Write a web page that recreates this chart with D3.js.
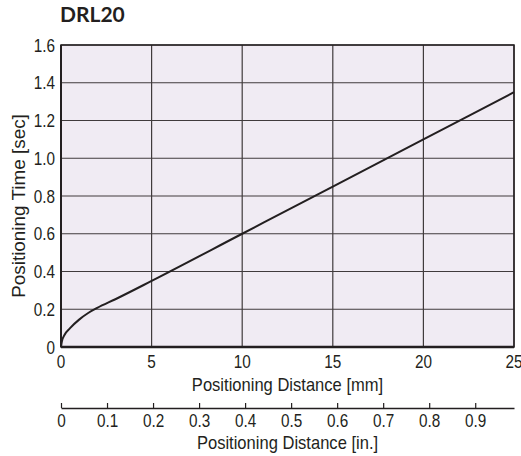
<!DOCTYPE html>
<html>
<head>
<meta charset="utf-8">
<script src="https://cdn.jsdelivr.net/npm/d3@7"></script>
<style>
  body { margin: 0; background: #fff; }
  svg text { font-family: 'Liberation Sans', Arial, sans-serif; fill: #231f20; }
</style>
</head>
<body>
<div id="chart"></div>
<script>
// data
let distanceMm = [0, 0.05, 0.2, 0.5, 1, 1.5, 2, 3, 5, 10, 15, 20, 25]
let timeSec = [0, 0.03, 0.065, 0.1, 0.145, 0.18, 0.207, 0.253, 0.35, 0.6, 0.85, 1.1, 1.35]
let mmTicks = [0, 5, 10, 15, 20, 25]
let secTicks = [0, 0.2, 0.4, 0.6, 0.8, 1.0, 1.2, 1.4, 1.6]
let inchTicks = [0, 0.1, 0.2, 0.3, 0.4, 0.5, 0.6, 0.7, 0.8, 0.9]

let margin = { top: 45, left: 61, right: 7, bottom: 109 }
let width = 521 - margin.left - margin.right
let height = 456 - margin.top - margin.bottom

// condensed look: squeeze Liberation Sans horizontally
let tickSqueeze = 0.85
let labelSqueeze = 0.92

let svg = d3.select('#chart')
  .append('svg')
  .attr('width', 521)
  .attr('height', 456)

let g = svg.append('g')
  .attr('transform', `translate(${margin.left},${margin.top})`)

let xPositionScale = d3.scaleLinear().domain([0, 25]).range([0, width])
let yPositionScale = d3.scaleLinear().domain([0, 1.6]).range([height, 0])
let inchScale = d3.scaleLinear().domain([0, 25 / 25.4]).range([0, width])

function squeezed(parent, str, x, y, anchor, sx) {
  return parent.append('text')
    .text(str)
    .attr('transform', `translate(${x},${y}) scale(${sx},1)`)
    .attr('text-anchor', anchor)
    .attr('font-size', 18)
}

// plot background
g.append('rect')
  .attr('width', width)
  .attr('height', height)
  .attr('fill', '#f0ebf3')

// grid
g.selectAll('.vgrid')
  .data(mmTicks)
  .enter()
  .append('line')
  .attr('x1', d => xPositionScale(d))
  .attr('x2', d => xPositionScale(d))
  .attr('y1', 0)
  .attr('y2', height)
  .attr('stroke', '#403b3c')
  .attr('stroke-width', 1.2)

g.selectAll('.hgrid')
  .data(secTicks)
  .enter()
  .append('line')
  .attr('x1', 0)
  .attr('x2', width)
  .attr('y1', d => yPositionScale(d))
  .attr('y2', d => yPositionScale(d))
  .attr('stroke', '#403b3c')
  .attr('stroke-width', 1.2)

// frame
g.append('rect')
  .attr('width', width)
  .attr('height', height)
  .attr('fill', 'none')
  .attr('stroke', '#231f20')
  .attr('stroke-width', 1.5)

g.append('line')
  .attr('x1', 0).attr('x2', width)
  .attr('y1', height).attr('y2', height)
  .attr('stroke', '#231f20')
  .attr('stroke-width', 2.5)

g.append('line')
  .attr('x1', 0).attr('x2', 0)
  .attr('y1', 0).attr('y2', height)
  .attr('stroke', '#231f20')
  .attr('stroke-width', 2)

// curve
let line = d3.line()
  .x((d, i) => xPositionScale(distanceMm[i]))
  .y(d => yPositionScale(d))
  .curve(d3.curveMonotoneX)

g.append('path')
  .datum(timeSec)
  .attr('d', line)
  .attr('fill', 'none')
  .attr('stroke', '#231f20')
  .attr('stroke-width', 2)

// y tick labels
secTicks.forEach(d => {
  squeezed(g, d === 0 ? '0' : d.toFixed(1), -6, yPositionScale(d) + 6.5, 'end', tickSqueeze)
})

// x tick labels (mm)
mmTicks.forEach(d => {
  squeezed(g, d, xPositionScale(d), height + 21, 'middle', tickSqueeze)
})

squeezed(g, 'Positioning Distance [mm]', width / 2, height + 44, 'middle', labelSqueeze)

g.append('text')
  .text('Positioning Time [sec]')
  .attr('transform', `translate(-36,${height / 2 + 10}) rotate(-90) scale(1.05,1)`)
  .attr('text-anchor', 'middle')
  .attr('font-size', 18)

// inch axis
let inchAxis = d3.axisTop(inchScale)
  .tickValues(inchTicks)
  .tickSize(5)
  .tickSizeOuter(0)
  .tickFormat(d => d === 0 ? '0' : d.toFixed(1))

let ig = g.append('g')
  .attr('transform', `translate(0,${height + 61})`)
  .call(inchAxis)

ig.select('.domain').attr('stroke', '#231f20').attr('stroke-width', 1.5)
ig.selectAll('.tick line').attr('stroke', '#231f20').attr('stroke-width', 1.2)
ig.selectAll('.tick text')
  .attr('y', 0)
  .attr('dy', 0)
  .attr('transform', `translate(0,19) scale(${tickSqueeze},1)`)
  .attr('font-size', 18)
  .attr('font-family', null)

squeezed(g, 'Positioning Distance [in.]', width / 2, height + 102, 'middle', labelSqueeze)

// title
svg.append('text')
  .text('DRL20')
  .attr('x', 60)
  .attr('y', 22)
  .attr('font-size', 21)
  .attr('font-weight', 'bold')
  .style('font-family', 'Lato, sans-serif')
</script>
</body>
</html>
